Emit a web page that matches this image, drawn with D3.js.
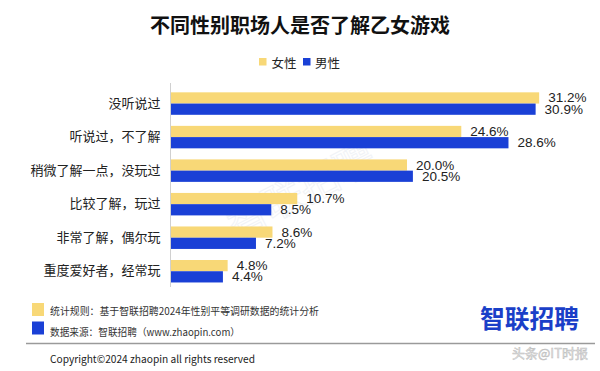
<!DOCTYPE html>
<html><head><meta charset="utf-8">
<script src="https://cdn.jsdelivr.net/npm/d3@7"></script>
<style>html,body{margin:0;padding:0;background:#fff;}svg{display:block;}</style>
</head><body>
<svg id="chart" width="600" height="371"></svg>
<script>
const categories = ["没听说过","听说过，不了解","稍微了解一点，没玩过","比较了解，玩过","非常了解，偶尔玩","重度爱好者，经常玩"];
const seriesNames = ["女性","男性"];
const femaleValues = [31.2, 24.6, 20.0, 10.7, 8.6, 4.8];
const maleValues = [30.9, 28.6, 20.5, 8.5, 7.2, 4.4];
const title = "不同性别职场人是否了解乙女游戏";
const footerNotes = ["统计规则：基于智联招聘2024年性别平等调研数据的统计分析","数据来源：智联招聘（www.zhaopin.com）"];
const copyright = "Copyright©2024 zhaopin all rights reserved";

const colors = {"女性":"#f8d877","男性":"#1a40d6"};
const FONT = "'Liberation Sans','Noto Sans CJK SC',sans-serif";
const CJK = "'Noto Sans CJK SC','Liberation Sans',sans-serif";

const svg = d3.select("#chart");
const data = categories.map((c,i)=>({cat:c, values:[{s:"女性",v:femaleValues[i]},{s:"男性",v:maleValues[i]}]}));

const x = d3.scaleLinear().domain([0,35]).range([171,171+35*11.8]);
const y = d3.scaleBand().domain(categories).range([86.8,288]).paddingInner(0.33).paddingOuter(0.165);
const ySub = d3.scaleBand().domain(seriesNames).range([0,y.bandwidth()]).padding(0);

// title
svg.append("text").attr("x",300).attr("y",24).attr("text-anchor","middle")
  .attr("dominant-baseline","central").attr("font-family",CJK).attr("font-weight","bold")
  .attr("font-size",20).attr("fill","#111").text(title);

// legend
const leg = [{s:"女性",rx:259,tx:271.5},{s:"男性",rx:303,tx:315}];
leg.forEach(l=>{
  svg.append("rect").attr("x",l.rx).attr("y",58).attr("width",7.5).attr("height",7.5).attr("fill",colors[l.s]);
  svg.append("text").attr("x",l.tx).attr("y",62).attr("dominant-baseline","central")
    .attr("font-family",CJK).attr("font-size",12.5).attr("fill","#222").text(l.s);
});

// diagonal watermark (behind everything else)
svg.append("text").attr("transform","translate(300,188) rotate(-27)").attr("text-anchor","middle")
  .attr("dominant-baseline","central").attr("font-family",CJK).attr("font-size",40)
  .attr("fill","none").attr("stroke","#e4e8f0").attr("stroke-width",1).attr("opacity",0.5).text("智联招聘");

// axis line (category axis)
const yAxis = d3.axisLeft(y).tickSize(0).tickPadding(10);
const ag = svg.append("g").attr("transform","translate(170.5,0)").call(yAxis);
ag.select(".domain").attr("stroke","#d0d0d0").attr("d","M0,83V287");
ag.selectAll("text").attr("font-family",CJK).attr("font-size",13).attr("fill","#222");

// bars
const groups = svg.append("g").selectAll("g").data(data).join("g")
  .attr("transform",d=>`translate(0,${y(d.cat)})`);
groups.selectAll("rect").data(d=>d.values).join("rect")
  .attr("x",x(0)).attr("y",d=>ySub(d.s)).attr("height",ySub.bandwidth())
  .attr("width",d=>x(d.v)-x(0)).attr("fill",d=>colors[d.s]);
groups.selectAll("text").data(d=>d.values).join("text")
  .attr("x",d=>x(d.v)+9).attr("y",d=>ySub(d.s)+ySub.bandwidth()/2)
  .attr("dominant-baseline","central").attr("font-family",FONT).attr("font-size",13.5)
  .attr("fill","#222").text(d=>d.v.toFixed(1)+"%");

// footer
svg.append("rect").attr("x",32).attr("y",303).attr("width",12).attr("height",13).attr("fill",colors["女性"]);
svg.append("rect").attr("x",32).attr("y",321.5).attr("width",12).attr("height",13).attr("fill",colors["男性"]);
svg.append("text").attr("x",50).attr("y",310.5).attr("dominant-baseline","central").attr("font-family",CJK)
  .attr("font-size",10).attr("fill","#333").attr("textLength",269).attr("lengthAdjust","spacingAndGlyphs").text(footerNotes[0]);
svg.append("text").attr("x",50).attr("y",331.5).attr("dominant-baseline","central").attr("font-family",CJK)
  .attr("font-size",10).attr("fill","#333").attr("textLength",190).attr("lengthAdjust","spacingAndGlyphs").text(footerNotes[1]);
svg.append("line").attr("x1",26).attr("x2",595).attr("y1",343.5).attr("y2",343.5).attr("stroke","#9a9a9a").attr("stroke-width",1.3);
svg.append("text").attr("x",50).attr("y",358).attr("dominant-baseline","central").attr("font-family",CJK)
  .attr("font-size",10.5).attr("fill","#222").attr("textLength",205).attr("lengthAdjust","spacingAndGlyphs").text(copyright);

// logo
svg.append("text").attr("x",480).attr("y",317).attr("dominant-baseline","central").attr("font-family",CJK)
  .attr("font-weight","bold").attr("font-size",25).attr("fill","#1a3fc8")
  .attr("textLength",99).attr("lengthAdjust","spacingAndGlyphs").text("智联招聘");

// source watermark
svg.append("text").attr("x",512).attr("y",352).attr("dominant-baseline","central").attr("font-family",CJK)
  .attr("font-size",13).attr("fill","#e6e6e6").attr("stroke","#bdbdbd").attr("stroke-width",0.5)
  .attr("textLength",76).attr("lengthAdjust","spacingAndGlyphs").text("头条@IT时报");
</script>
</body></html>
